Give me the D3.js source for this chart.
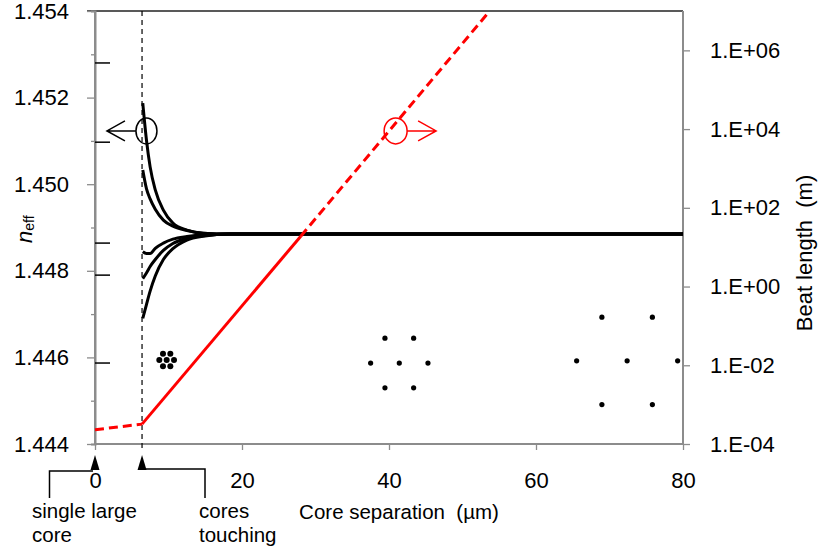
<!DOCTYPE html>
<html>
<head>
<meta charset="utf-8">
<script src="https://cdn.jsdelivr.net/npm/d3@7"></script>
<style>
body { margin: 0; background: #fff; }
text { font-family: "Liberation Sans", Arial, Helvetica, sans-serif; fill: #000; }
</style>
</head>
<body>
<script>
// core separation (um) where the supermode curves were sampled
var curveSep = [6.5, 7, 7.5, 8.2, 9.3, 10.6, 12.5, 14.7, 18.4, 80];
var mode1 = [1.45187, 1.45102, 1.45040, 1.44987, 1.44940, 1.44910, 1.44894, 1.44887, 1.44885, 1.44885];
var mode2 = [1.45033, 1.44990, 1.44966, 1.44942, 1.44917, 1.44903, 1.44893, 1.44887, 1.44885, 1.44885];
var mode3 = [1.44844, 1.44840, 1.44840, 1.44852, 1.44864, 1.44873, 1.44879, 1.44883, 1.44885, 1.44885];
var mode4 = [1.44782, 1.44795, 1.44810, 1.44826, 1.44847, 1.44863, 1.44875, 1.44881, 1.44885, 1.44885];
var mode5 = [1.44690, 1.44722, 1.44753, 1.44788, 1.44826, 1.44851, 1.44871, 1.44880, 1.44885, 1.44885];

// beat length (m)
var beatLowSep = [0, 6.4], beatLowLen = [2.3e-4, 3.2e-4];
var beatSolidSep = [6.4, 28], beatSolidLen = [3.2e-4, 19];
var beatHighSep = [28, 53.7], beatHighLen = [19, 1e7];

var touchSep = 6.4;

var leftTicks = [1.444, 1.446, 1.448, 1.450, 1.452, 1.454];
var leftMinor = [1.445, 1.447, 1.449, 1.451, 1.453];
var strayTicks = [1.45280, 1.45097, 1.44864, 1.44790, 1.44587];
var rightTicks = [1e-4, 1e-2, 1, 1e2, 1e4, 1e6];
var rightLabels = ["1.E-04", "1.E-02", "1.E+00", "1.E+02", "1.E+04", "1.E+06"];
var xTicks = [0, 20, 40, 60, 80];

// cross-section sketches: 7 cores (centre + hexagon)
var patternSep = [9.75, 41.4, 72.4];
var patternN = [1.44594, 1.44587, 1.44592];
var patternPitch = [1.0, 3.9, 6.87];
var patternDot = [3, 2.6, 2.6];

var svg = d3.select("body").append("svg")
    .attr("width", 821)
    .attr("height", 552);

var margin = {left: 95, right: 138, top: 11, bottom: 108};
var width = 821 - margin.left - margin.right;
var height = 552 - margin.top - margin.bottom;

var x = d3.scaleLinear().domain([0, 80]).range([0, width]);
var y = d3.scaleLinear().domain([1.444, 1.454]).range([height, 0]);
var yR = d3.scaleLog().domain([1e-4, 1e7]).range([height, 0]);

var g = svg.append("g")
    .attr("transform", "translate(" + margin.left + "," + margin.top + ")");

var axisGray = "#8c8c8c";

// top frame line
g.append("line")
  .attr("x1", -8).attr("x2", width).attr("y1", 0).attr("y2", 0)
  .attr("stroke", "#222").attr("stroke-width", 1.3);

// left axis
var la = g.append("g")
  .call(d3.axisLeft(y).tickValues(leftTicks).tickFormat(d3.format(".3f")).tickSize(8).tickPadding(18));
g.append("g")
  .call(d3.axisLeft(y).tickValues(leftMinor).tickFormat("").tickSize(4));

// right axis
var ra = g.append("g")
  .attr("transform", "translate(" + width + ",0)")
  .call(d3.axisRight(yR).tickValues(rightTicks).tickFormat(function(d, i) { return rightLabels[i]; }).tickSize(7).tickPadding(20));

// bottom axis
var xa = g.append("g")
  .attr("transform", "translate(0," + height + ")")
  .call(d3.axisBottom(x).tickValues(xTicks).tickSize(6).tickPadding(22));

g.selectAll(".domain").attr("stroke", axisGray).attr("stroke-width", 2);
g.selectAll(".tick line").attr("stroke", axisGray).attr("stroke-width", 1.3);
g.selectAll(".tick text").style("font-size", "22px").attr("fill", "#000");
la.select(".domain").attr("d", "M0," + height + "V0");
ra.select(".domain").attr("d", "M0," + height + "V0");
xa.select(".domain").attr("d", "M0,0H" + width);

// short black ticks inside the left axis
g.selectAll(".stray").data(strayTicks).enter().append("line")
  .attr("x1", 0).attr("x2", 15)
  .attr("y1", function(d) { return y(d); }).attr("y2", function(d) { return y(d); })
  .attr("stroke", "#000").attr("stroke-width", 1.5);

// vertical dashed line where the cores touch
g.append("line")
  .attr("x1", x(touchSep)).attr("x2", x(touchSep))
  .attr("y1", 0).attr("y2", height + 5)
  .attr("stroke", "#000").attr("stroke-width", 1.2)
  .attr("stroke-dasharray", "5,4");

// n_eff curves
var modeLine = d3.line()
  .x(function(d) { return x(d[0]); })
  .y(function(d) { return y(d[1]); })
  .curve(d3.curveMonotoneX);

[mode1, mode2, mode3, mode4, mode5].forEach(function(m) {
  g.append("path")
    .datum(curveSep.map(function(s, i) { return [s, m[i]]; }))
    .attr("fill", "none")
    .attr("stroke", "#000")
    .attr("stroke-width", 3)
    .attr("d", modeLine);
});

// beat length line
var beatLine = d3.line()
  .x(function(d) { return x(d[0]); })
  .y(function(d) { return yR(d[1]); });

function beatSeg(sep, len, dashed) {
  g.append("path")
    .datum(sep.map(function(s, i) { return [s, len[i]]; }))
    .attr("fill", "none")
    .attr("stroke", "#ff0000")
    .attr("stroke-width", 3)
    .attr("stroke-dasharray", dashed ? "9,5" : null)
    .attr("d", beatLine);
}
beatSeg(beatLowSep, beatLowLen, true);
beatSeg(beatSolidSep, beatSolidLen, false);
beatSeg(beatHighSep, beatHighLen, true);

// core cross-section sketches
patternSep.forEach(function(s, k) {
  var cx = x(s), cy = y(patternN[k]);
  var p = x(patternPitch[k]) - x(0);
  var h = p * Math.sqrt(3) / 2;
  var pts = [[0, 0], [-p, 0], [p, 0], [-p / 2, -h], [p / 2, -h], [-p / 2, h], [p / 2, h]];
  g.selectAll(null).data(pts).enter().append("circle")
    .attr("cx", function(d) { return cx + d[0]; })
    .attr("cy", function(d) { return cy + d[1]; })
    .attr("r", patternDot[k])
    .attr("fill", "#000");
});

// axis-pointer annotations (circle + arrow)
function pointer(cx, cy, dir, col) {
  var rx = dir < 0 ? 10.5 : 11.5, ry = 13;
  g.append("ellipse")
    .attr("cx", cx).attr("cy", cy).attr("rx", rx).attr("ry", ry)
    .attr("fill", "none").attr("stroke", col).attr("stroke-width", 1.5);
  var x0 = cx + dir * rx, x1 = x0 + dir * 29;
  g.append("path")
    .attr("d", "M" + x0 + "," + cy + "H" + x1 +
      "M" + (x1 - dir * 18) + "," + (cy - 10) + "L" + x1 + "," + cy + "L" + (x1 - dir * 18) + "," + (cy + 10))
    .attr("fill", "none").attr("stroke", col).attr("stroke-width", 1.5);
}
pointer(x(7.0), y(1.45123), -1, "#000");
pointer(x(40.9), yR(9000), 1, "#ff0000");

// bottom call-outs
function marker(px) {
  g.append("path")
    .attr("d", "M" + px + "," + (height + 11) + "L" + (px - 4.5) + "," + (height + 26) + "L" + (px + 4.5) + "," + (height + 26) + "Z")
    .attr("fill", "#000");
}
marker(x(0));
marker(x(touchSep));

g.append("path")
  .attr("d", "M" + (49.5 - margin.left) + "," + (height + 54) + "V" + (height + 27) + "H" + (x(0) - 2))
  .attr("fill", "none").attr("stroke", "#000").attr("stroke-width", 1.5);
g.append("path")
  .attr("d", "M" + (205 - margin.left) + "," + (height + 54) + "V" + (height + 25) + "H" + x(touchSep))
  .attr("fill", "none").attr("stroke", "#000").attr("stroke-width", 1.5);

var noteSize = "20.5px";
svg.append("text").attr("x", 32).attr("y", 518).style("font-size", noteSize).text("single large");
svg.append("text").attr("x", 32).attr("y", 542).style("font-size", noteSize).text("core");
svg.append("text").attr("x", 199).attr("y", 518).style("font-size", noteSize).text("cores");
svg.append("text").attr("x", 199).attr("y", 542).style("font-size", noteSize).text("touching");

// axis titles
svg.append("text")
  .attr("x", 399).attr("y", 519)
  .attr("text-anchor", "middle")
  .style("font-size", "20.5px")
  .text("Core separation\u00a0 (\u00b5m)");

var yt = svg.append("text")
  .attr("transform", "translate(32,243) rotate(-90)")
  .style("font-size", "22px");
yt.append("tspan").style("font-style", "italic").text("n");
yt.append("tspan").attr("dy", 2).style("font-size", "14px").text("eff");

svg.append("text")
  .attr("transform", "translate(812,253) rotate(-90)")
  .attr("text-anchor", "middle")
  .style("font-size", "22px")
  .text("Beat length\u00a0 (m)");
</script>
</body>
</html>
